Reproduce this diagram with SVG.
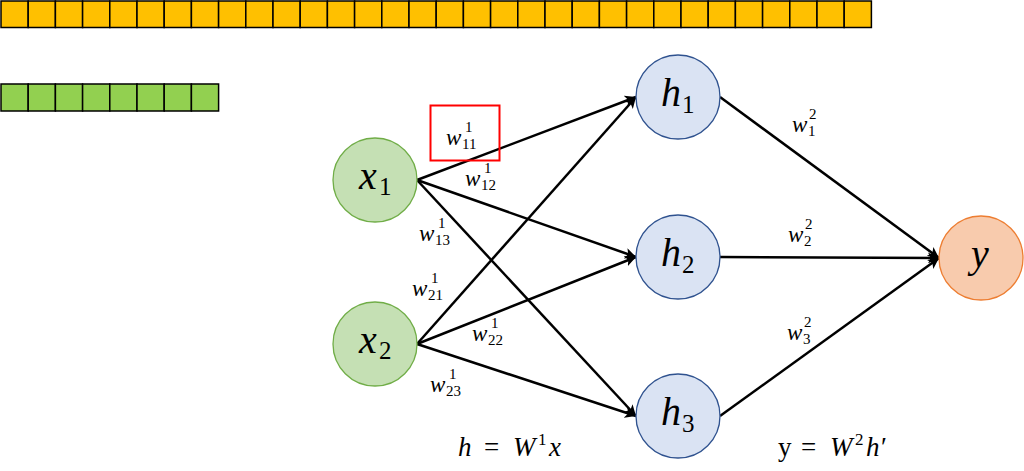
<svg xmlns="http://www.w3.org/2000/svg" width="1024" height="471" viewBox="0 0 1024 471">
<style>
.cellY{fill:#FFC000;stroke:#000;stroke-width:1.5}
.cellG{fill:#92D050;stroke:#000;stroke-width:1.5}
.in{fill:#C5E0B4;stroke:#70AD47;stroke-width:1.3}
.hid{fill:#DAE3F3;stroke:#2F528F;stroke-width:1.3}
.out{fill:#F8CBAD;stroke:#ED7D31;stroke-width:1.3}
.edge{stroke:#000;stroke-width:2.5;fill:none;marker-end:url(#ah)}
.m{font-family:"Liberation Serif",serif;font-style:italic;fill:#000}
.r{font-family:"Liberation Serif",serif;fill:#000}
.w{font-size:23px}
.s{font-size:15px;font-style:normal}
.big{font-size:40px}
.bs{font-size:25px;font-style:normal}
.f{font-size:27px}
.fs{font-size:17px;font-style:normal}
</style>
<defs>
<marker id="ah" viewBox="0 0 10 10" refX="10" refY="5" markerWidth="4.4" markerHeight="4.4" orient="auto" markerUnits="strokeWidth">
<path d="M0,0 L10,5 L0,10 L2.5,5 Z" fill="#000"/>
</marker>
</defs>
<g id="bar-yellow">
<rect class="cellY" x="1" y="1" width="27.2" height="26.5"/>
<rect class="cellY" x="28.2" y="1" width="27.2" height="26.5"/>
<rect class="cellY" x="55.4" y="1" width="27.2" height="26.5"/>
<rect class="cellY" x="82.6" y="1" width="27.2" height="26.5"/>
<rect class="cellY" x="109.8" y="1" width="27.2" height="26.5"/>
<rect class="cellY" x="137" y="1" width="27.2" height="26.5"/>
<rect class="cellY" x="164.2" y="1" width="27.2" height="26.5"/>
<rect class="cellY" x="191.4" y="1" width="27.2" height="26.5"/>
<rect class="cellY" x="218.6" y="1" width="27.2" height="26.5"/>
<rect class="cellY" x="245.8" y="1" width="27.2" height="26.5"/>
<rect class="cellY" x="273" y="1" width="27.2" height="26.5"/>
<rect class="cellY" x="300.2" y="1" width="27.2" height="26.5"/>
<rect class="cellY" x="327.4" y="1" width="27.2" height="26.5"/>
<rect class="cellY" x="354.6" y="1" width="27.2" height="26.5"/>
<rect class="cellY" x="381.8" y="1" width="27.2" height="26.5"/>
<rect class="cellY" x="409" y="1" width="27.2" height="26.5"/>
<rect class="cellY" x="436.2" y="1" width="27.2" height="26.5"/>
<rect class="cellY" x="463.4" y="1" width="27.2" height="26.5"/>
<rect class="cellY" x="490.6" y="1" width="27.2" height="26.5"/>
<rect class="cellY" x="517.8" y="1" width="27.2" height="26.5"/>
<rect class="cellY" x="545" y="1" width="27.2" height="26.5"/>
<rect class="cellY" x="572.2" y="1" width="27.2" height="26.5"/>
<rect class="cellY" x="599.4" y="1" width="27.2" height="26.5"/>
<rect class="cellY" x="626.6" y="1" width="27.2" height="26.5"/>
<rect class="cellY" x="653.8" y="1" width="27.2" height="26.5"/>
<rect class="cellY" x="681" y="1" width="27.2" height="26.5"/>
<rect class="cellY" x="708.2" y="1" width="27.2" height="26.5"/>
<rect class="cellY" x="735.4" y="1" width="27.2" height="26.5"/>
<rect class="cellY" x="762.6" y="1" width="27.2" height="26.5"/>
<rect class="cellY" x="789.8" y="1" width="27.2" height="26.5"/>
<rect class="cellY" x="817" y="1" width="27.2" height="26.5"/>
<rect class="cellY" x="844.2" y="1" width="27.2" height="26.5"/>
</g>
<g id="bar-green">
<rect class="cellG" x="1" y="84" width="27.2" height="27"/>
<rect class="cellG" x="28.2" y="84" width="27.2" height="27"/>
<rect class="cellG" x="55.4" y="84" width="27.2" height="27"/>
<rect class="cellG" x="82.6" y="84" width="27.2" height="27"/>
<rect class="cellG" x="109.8" y="84" width="27.2" height="27"/>
<rect class="cellG" x="137" y="84" width="27.2" height="27"/>
<rect class="cellG" x="164.2" y="84" width="27.2" height="27"/>
<rect class="cellG" x="191.4" y="84" width="27.2" height="27"/>
</g>
<g id="connectors">
<line class="edge" x1="417" y1="180" x2="636" y2="97"/>
<line class="edge" x1="417" y1="180" x2="636" y2="257"/>
<line class="edge" x1="417" y1="180" x2="636" y2="416"/>
<line class="edge" x1="417" y1="344" x2="636" y2="97"/>
<line class="edge" x1="417" y1="344" x2="636" y2="257"/>
<line class="edge" x1="417" y1="344" x2="636" y2="416"/>
<line class="edge" x1="720" y1="97" x2="939" y2="258"/>
<line class="edge" x1="720" y1="257" x2="939" y2="258"/>
<line class="edge" x1="720" y1="416" x2="939" y2="258"/>
</g>
<g id="node-x1">
<circle class="in" cx="375" cy="180" r="42"/>
<text class="m big" x="359" y="189">x</text><text class="m bs" x="379" y="195">1</text>
</g>
<g id="node-x2">
<circle class="in" cx="375" cy="344" r="42"/>
<text class="m big" x="359" y="353">x</text><text class="m bs" x="379" y="359">2</text>
</g>
<g id="node-h1">
<circle class="hid" cx="678" cy="97" r="42"/>
<text class="m big" x="661" y="106">h</text><text class="m bs" x="682" y="113">1</text>
</g>
<g id="node-h2">
<circle class="hid" cx="678" cy="257" r="42"/>
<text class="m big" x="661" y="266">h</text><text class="m bs" x="682" y="273">2</text>
</g>
<g id="node-h3">
<circle class="hid" cx="678" cy="416" r="42"/>
<text class="m big" x="661" y="425">h</text><text class="m bs" x="682" y="432">3</text>
</g>
<g id="node-y">
<circle class="out" cx="981" cy="258" r="42"/>
<text class="m big" x="971" y="267">y</text>
</g>
<g id="highlight">
<rect x="430.5" y="105.5" width="69" height="55" fill="none" stroke="#FF0000" stroke-width="2"/>
</g>
<g id="weights">
<g transform="translate(446,145)"><text class="m w" x="0" y="0">w</text><text class="m s" x="19" y="-13">1</text><text class="m s" x="16" y="4">11</text></g>
<g transform="translate(465,186)"><text class="m w" x="0" y="0">w</text><text class="m s" x="19" y="-13">1</text><text class="m s" x="16" y="4">12</text></g>
<g transform="translate(419,241)"><text class="m w" x="0" y="0">w</text><text class="m s" x="19" y="-13">1</text><text class="m s" x="16" y="4">13</text></g>
<g transform="translate(412,296)"><text class="m w" x="0" y="0">w</text><text class="m s" x="19" y="-13">1</text><text class="m s" x="16" y="4">21</text></g>
<g transform="translate(472,341)"><text class="m w" x="0" y="0">w</text><text class="m s" x="19" y="-13">1</text><text class="m s" x="16" y="4">22</text></g>
<g transform="translate(430,392)"><text class="m w" x="0" y="0">w</text><text class="m s" x="19" y="-13">1</text><text class="m s" x="16" y="4">23</text></g>
<g transform="translate(792,132)"><text class="m w" x="0" y="0">w</text><text class="m s" x="17" y="-13">2</text><text class="m s" x="16" y="4">1</text></g>
<g transform="translate(788,242)"><text class="m w" x="0" y="0">w</text><text class="m s" x="17" y="-13">2</text><text class="m s" x="16" y="4">2</text></g>
<g transform="translate(787,340)"><text class="m w" x="0" y="0">w</text><text class="m s" x="17" y="-13">2</text><text class="m s" x="16" y="4">3</text></g>
</g>
<g id="formulas">
<text class="m f" x="458" y="456">h</text><text class="r f" x="484" y="456">=</text><text class="m f" x="513" y="456">W</text><text class="r fs" x="538" y="445">1</text><text class="m f" x="549" y="456">x</text>
<text class="r f" x="778" y="456">y</text><text class="r f" x="801" y="456">=</text><text class="m f" x="830" y="456">W</text><text class="r fs" x="855" y="445">2</text><text class="m f" x="866" y="456">h</text><text class="r f" x="881" y="456">′</text>
</g>
</svg>
